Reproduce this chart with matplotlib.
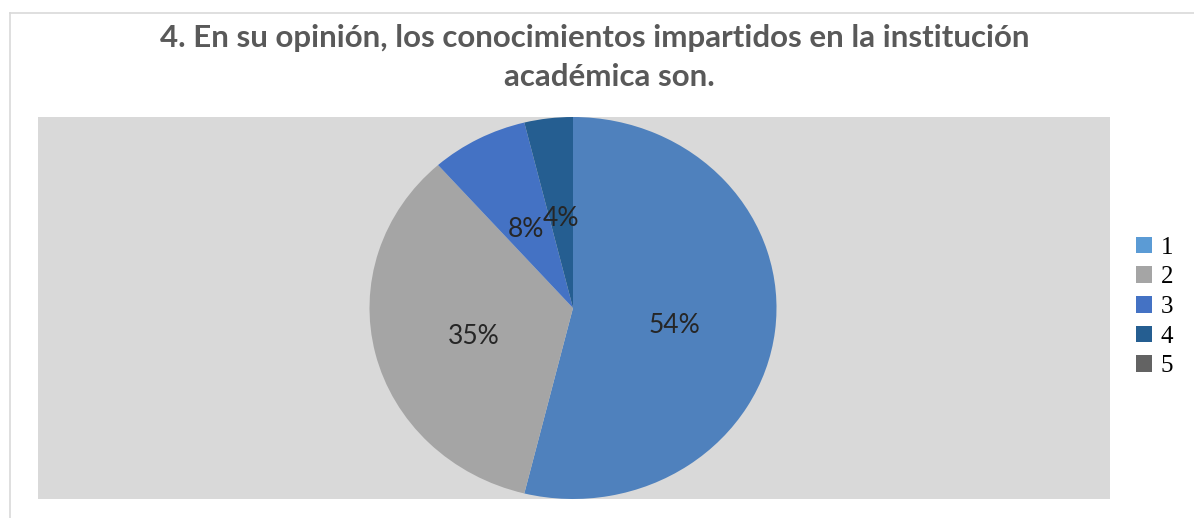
import matplotlib
matplotlib.use("Agg")
import matplotlib.pyplot as plt
from matplotlib.patches import Rectangle, Patch

categories = ["1", "2", "3", "4", "5"]
counts = [14, 9, 2, 1, 0]
legend_colors = ["#5B9BD5", "#A5A5A5", "#4472C4", "#255E91", "#636363"]
slice_colors = ["#4F81BD", "#A5A5A5", "#4472C4", "#255E91", "#636363"]
title_lines = ["4. En su opinión, los conocimientos impartidos en la institución",
               "académica son."]

W, H = 1194, 518
fig = plt.figure(figsize=(W / 100, H / 100), dpi=100)
fig.patch.set_facecolor("white")

def fx(px):
    return px / W

def fy(py):
    return 1 - py / H

# chart border
fig.add_artist(plt.Line2D([fx(10), fx(10)], [fy(13), 0], color="#D9D9D9", lw=1.2, zorder=-2))
fig.add_artist(plt.Line2D([fx(10), 1], [fy(13), fy(13)], color="#D9D9D9", lw=1.2, zorder=-2))

# plot area background
fig.add_artist(Rectangle((fx(38), fy(499)), fx(1110) - fx(38), fy(117) - fy(499),
                         facecolor="#D9D9D9", edgecolor="none", zorder=-1))

# pie axes (stretched slightly horizontally like the reference)
ax = fig.add_axes([fx(369.5), fy(499), fx(776.5) - fx(369.5), fy(117) - fy(499)])
ax.patch.set_visible(False)
vals = [v for v in counts if v > 0]
cols = [c for v, c in zip(counts, slice_colors) if v > 0]
wedges, texts, autotexts = ax.pie(
    vals, colors=cols, startangle=90, counterclock=False,
    autopct=lambda p: f"{p:.0f}%", pctdistance=0.5, radius=1.0,
    textprops=dict(fontsize=19, color="#262626", family="Lato"),
    wedgeprops=dict(linewidth=0))
for t in autotexts:
    t.set_y(t.get_position()[1] - 0.03)
ax.set_aspect("auto")
ax.set_xlim(-1, 1)
ax.set_ylim(-1, 1)
ax.axis("off")

fig.text(fx(595), fy(38), title_lines[0], ha="center", va="center", fontsize=22.5,
         fontweight="bold", color="#595959", family="Lato")
fig.text(fx(609), fy(77), title_lines[1], ha="center", va="center", fontsize=22.5,
         fontweight="bold", color="#595959", family="Lato")

handles = [Patch(facecolor=c, edgecolor="none") for c in legend_colors]
fig.legend(handles, categories, loc="center left",
           bbox_to_anchor=(fx(1113), fy(307)), frameon=False,
           handlelength=0.65, handleheight=0.65,
           handletextpad=0.35, labelspacing=0.3,
           prop=dict(family="Liberation Serif", size=18))

fig.savefig("out.png", dpi=100)
